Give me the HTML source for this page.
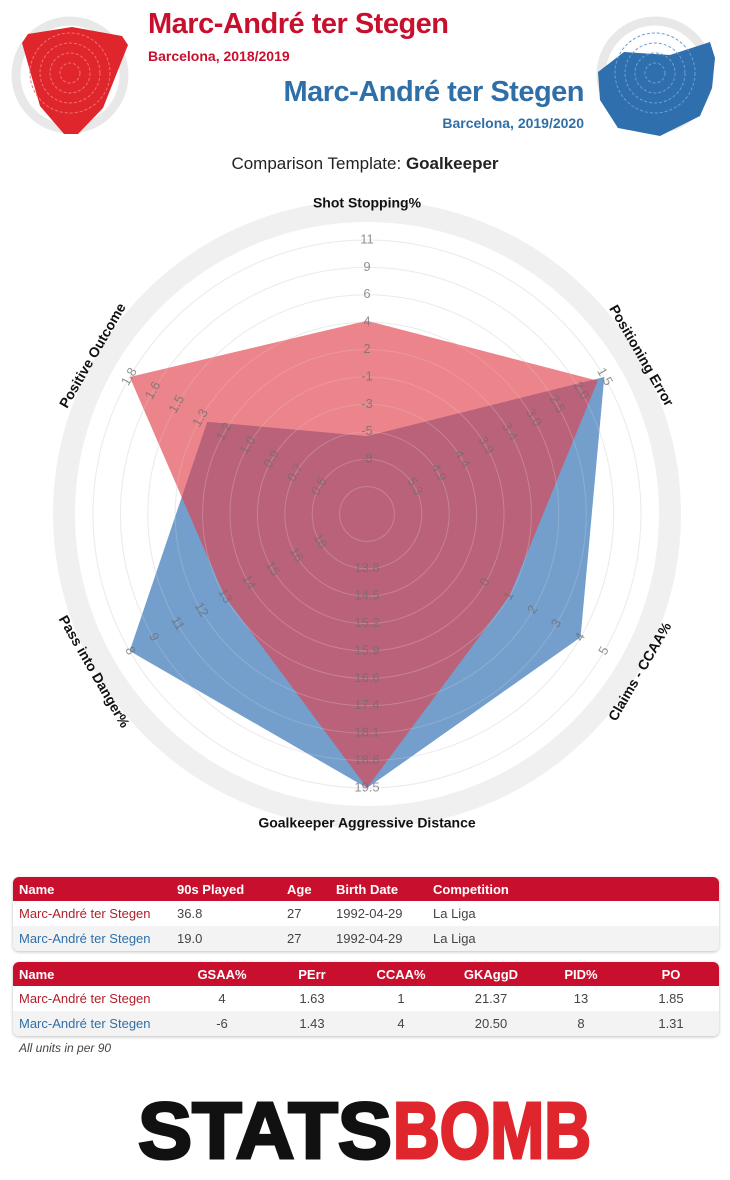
<!DOCTYPE html>
<html><head><meta charset="utf-8"><style>
body{margin:0;background:#fff;width:730px;height:1180px;overflow:hidden;font-family:"Liberation Sans",sans-serif;position:relative}
.abs{position:absolute}
.tbl{position:absolute;left:13px;width:706px;border-radius:6px;box-shadow:0 1px 3px rgba(0,0,0,.25);overflow:hidden;font-size:13px}
.hd{background:#c8102e;color:#fff;font-weight:bold;height:24px;position:relative}
.row{height:25px;position:relative;color:#444}
.row:nth-child(3){background:#f3f3f3}
.c{position:absolute;top:5px;white-space:nowrap}
.ctr{transform:translateX(-50%)}
</style></head><body>
<svg class="abs" style="left:0;top:0" width="730" height="180">
<g>
<circle cx="70" cy="75" r="54" fill="none" stroke="#e8e8e8" stroke-width="9"/>
<polygon points="22,43 28,34 72,27 122,36 128,45 103,108 78,134 64,134 40,106" fill="#e0262d"/>
<g fill="none" stroke="#f07070" stroke-width="1" stroke-dasharray="3,2"><circle cx="70" cy="73" r="10"/><circle cx="70" cy="73" r="20"/><circle cx="70" cy="73" r="30"/><circle cx="70" cy="73" r="40"/></g>
</g>
<g>
<circle cx="655" cy="75" r="54" fill="none" stroke="#e8e8e8" stroke-width="9"/>
<polygon points="624,52 670,55 710,42 715,58 712,88 700,116 660,136 618,128 600,100 598,72" fill="#2f6fae"/>
<g fill="none" stroke="#6c9fd2" stroke-width="1" stroke-dasharray="3,2"><circle cx="655" cy="73" r="10"/><circle cx="655" cy="73" r="20"/><circle cx="655" cy="73" r="30"/><circle cx="655" cy="73" r="40"/></g>
</g>
</svg>
<div class="abs" style="left:148px;top:8px;font-size:29px;font-weight:bold;color:#c8102e;letter-spacing:-0.5px">Marc-André ter Stegen</div>
<div class="abs" style="left:148px;top:48px;font-size:14px;font-weight:bold;color:#c8102e">Barcelona, 2018/2019</div>
<div class="abs" style="right:146px;top:76px;font-size:29px;font-weight:bold;color:#2f6fa7;letter-spacing:-0.5px">Marc-André ter Stegen</div>
<div class="abs" style="right:146px;top:115px;font-size:14px;font-weight:bold;color:#2f6fa7">Barcelona, 2019/2020</div>
<div class="abs" style="left:0;width:730px;text-align:center;top:154px;font-size:17px;color:#222">Comparison Template: <b>Goalkeeper</b></div>

<svg id="radar" class="abs" style="left:0;top:190px" width="730" height="660"></svg>
<script>
const axisNames=["Shot Stopping%","Positioning Error","Claims - CCAA%","Goalkeeper Aggressive Distance","Pass into Danger%","Positive Outcome"];
const axisMin=[-12.75,6.25,-5,12.375,20.5,0.3];
const axisMax=[11,1.5,5,19.5,8,1.8];
const tickLabels=[
["-8","-5","-3","-1","2","4","6","9","11"],
["5.3","4.9","4.4","3.9","3.4","3.0","2.5","2.0","1.5"],
["","","","0","1","2","3","4","5"],
["13.8","14.5","15.2","15.9","16.6","17.4","18.1","18.8","19.5"],
["18","16","15","14","13","12","11","9","8"],
["0.6","0.7","0.9","1.0","1.2","1.3","1.5","1.6","1.8"]];
const series1=[4,1.63,1,21.37,13,1.85];
const series2=[-6,1.43,4,20.50,8,1.31];
const NS="http://www.w3.org/2000/svg";
const svg=document.getElementById('radar');
const cx=367,cy=324,R=274;
const ang=i=>Math.PI/2-i*Math.PI/3;
function rScale(i,v){let t=(v-axisMin[i])/(axisMax[i]-axisMin[i]);t=Math.max(0,Math.min(1,t));return t*R;}
function pt(i,r){return [cx+r*Math.cos(ang(i)),cy-r*Math.sin(ang(i))];}
function mk(tag,attrs){const e=document.createElementNS(NS,tag);for(const k in attrs)e.setAttribute(k,attrs[k]);svg.appendChild(e);return e;}
let band=mk('circle',{cx:cx,cy:cy,r:303,fill:'none',stroke:'#f0f0f0','stroke-width':22});


for(let k=1;k<=10;k++){let c=mk('circle',{cx:cx,cy:cy,r:k*R/10,fill:'none',stroke:'#e6e6e6','stroke-width':1});

}
function poly(vals,fill,op,name){const p=vals.map((v,i)=>pt(i,rScale(i,v)).join(',')).join(' ');
const e=mk('polygon',{points:p,fill:fill,'fill-opacity':op});

}
poly(series2,'#3f7ab8',0.72,'series-2019-2020');
poly(series1,'#e2404a',0.64,'series-2018-2019');
for(let k=1;k<=10;k++){let c=mk('circle',{cx:cx,cy:cy,r:k*R/10,fill:'none',stroke:'rgba(255,255,255,0.22)','stroke-width':1});

}
function rot(i){let r=((90-ang(i)*180/Math.PI)%360+360)%360;if(r>180)r-=360;if(r>90)r-=180;if(r<-90)r+=180;return r;}
for(let i=0;i<6;i++){
 tickLabels[i].forEach((lab,j)=>{if(!lab)return;const [x,y]=pt(i,(j+2)*R/10);
 const t=mk('text',{x:x,y:y,'text-anchor':'middle','dominant-baseline':'middle','font-size':13,fill:'rgba(110,110,110,0.75)',transform:`rotate(${rot(i)} ${x} ${y})`});
 t.textContent=lab;
 
 });
 const [x,y]=pt(i,i%3===0?310:316);
 const t=mk('text',{x:x,y:y,'text-anchor':'middle','dominant-baseline':'middle','font-size':14,'font-weight':'bold',fill:'#111',transform:`rotate(${rot(i)} ${x} ${y})`});
 t.textContent=axisNames[i];
 
 
}
</script>

<div class="tbl" style="top:877px">
<div class="hd"><span class="c" style="left:6px">Name</span><span class="c" style="left:164px">90s Played</span><span class="c" style="left:274px">Age</span><span class="c" style="left:323px">Birth Date</span><span class="c" style="left:420px">Competition</span></div>
<div class="row"><span class="c" style="left:6px;color:#b01e2a">Marc-André ter Stegen</span><span class="c" style="left:164px">36.8</span><span class="c" style="left:274px">27</span><span class="c" style="left:323px">1992-04-29</span><span class="c" style="left:420px">La Liga</span></div>
<div class="row"><span class="c" style="left:6px;color:#2f6fa7">Marc-André ter Stegen</span><span class="c" style="left:164px">19.0</span><span class="c" style="left:274px">27</span><span class="c" style="left:323px">1992-04-29</span><span class="c" style="left:420px">La Liga</span></div>
</div>
<div class="tbl" style="top:962px">
<div class="hd"><span class="c" style="left:6px">Name</span><span class="c ctr" style="left:209px">GSAA%</span><span class="c ctr" style="left:299px">PErr</span><span class="c ctr" style="left:388px">CCAA%</span><span class="c ctr" style="left:478px">GKAggD</span><span class="c ctr" style="left:568px">PID%</span><span class="c ctr" style="left:658px">PO</span></div>
<div class="row"><span class="c" style="left:6px;color:#b01e2a">Marc-André ter Stegen</span><span class="c ctr" style="left:209px">4</span><span class="c ctr" style="left:299px">1.63</span><span class="c ctr" style="left:388px">1</span><span class="c ctr" style="left:478px">21.37</span><span class="c ctr" style="left:568px">13</span><span class="c ctr" style="left:658px">1.85</span></div>
<div class="row"><span class="c" style="left:6px;color:#2f6fa7">Marc-André ter Stegen</span><span class="c ctr" style="left:209px">-6</span><span class="c ctr" style="left:299px">1.43</span><span class="c ctr" style="left:388px">4</span><span class="c ctr" style="left:478px">20.50</span><span class="c ctr" style="left:568px">8</span><span class="c ctr" style="left:658px">1.31</span></div>
</div>
<div class="abs" style="left:19px;top:1041px;font-size:12px;font-style:italic;color:#444">All units in per 90</div>

<svg class="abs" style="left:130px;top:1095px" width="470" height="70">
<text x="8" y="63" font-size="80" font-weight="bold" fill="#111" stroke="#111" stroke-width="3" textLength="254" lengthAdjust="spacingAndGlyphs" font-family="Liberation Sans">STATS</text>
<text x="263" y="63" font-size="80" font-weight="bold" fill="#e0262d" stroke="#e0262d" stroke-width="3" textLength="198" lengthAdjust="spacingAndGlyphs" font-family="Liberation Sans">BOMB</text>
</svg>
</body></html>
